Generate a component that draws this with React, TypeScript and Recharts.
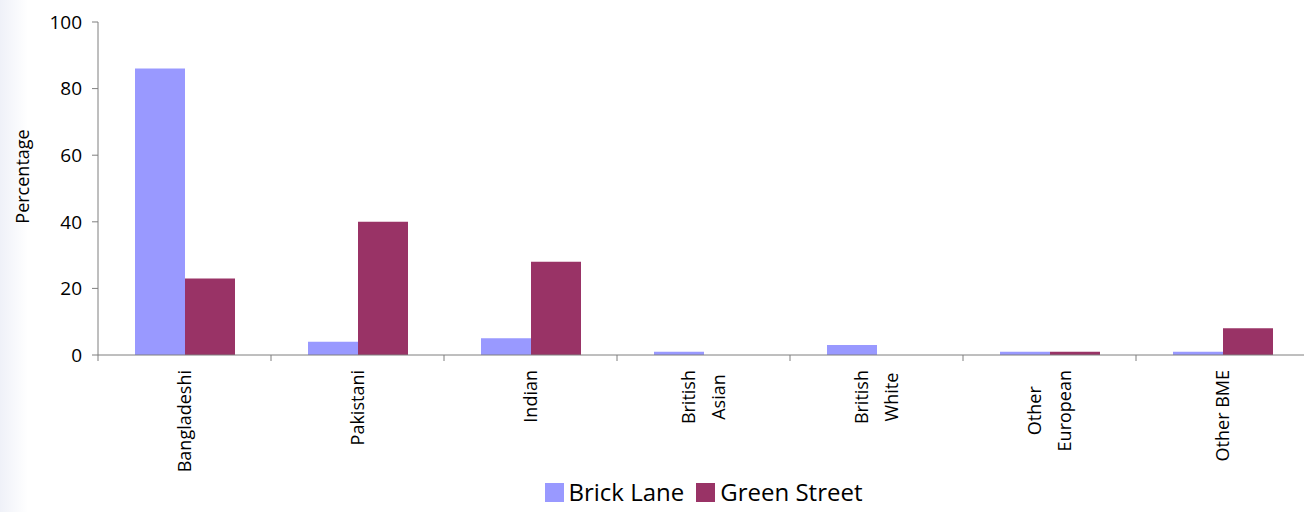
import { BarChart, Bar, XAxis, YAxis, Legend } from "recharts";

const categories = [
  "Bangladeshi",
  "Pakistani",
  "Indian",
  "British\nAsian",
  "British\nWhite",
  "Other\nEuropean",
  "Other BME",
];
const brickLane = [86, 4, 5, 1, 3, 1, 1];
const greenStreet = [23, 40, 28, 0, 0, 1, 8];
const yTicks = [0, 20, 40, 60, 80, 100];

const data = categories.map((name, i) => ({
  name,
  brick: brickLane[i],
  green: greenStreet[i],
}));

const FONT = "'Open Sans', Lato, sans-serif";
const CHART_W = 1312;
const CHART_H = 512;
const PLOT_LEFT = 98;
const MARGIN_RIGHT = 3;
const PLOT_W = CHART_W - PLOT_LEFT - MARGIN_RIGHT;
const BAND = PLOT_W / categories.length;
const AXIS = "#7f7f7f";

let ctx: CanvasRenderingContext2D | null = null;
const measure = (s: string, size: number) => {
  if (!ctx) ctx = document.createElement("canvas").getContext("2d");
  if (!ctx) return s.length * size * 0.5;
  ctx.font = `${size}px 'Open Sans'`;
  return ctx.measureText(s).width;
};

const XTick = (props: any) => {
  const { x, y, payload } = props;
  const lines = String(payload.value).split("\n");
  const size = 18;
  const len = Math.max(...lines.map((l) => measure(l, size)));
  const cy = y + 15 + len / 2;
  return (
    <g>
      <line x1={x - BAND / 2} x2={x - BAND / 2} y1={y} y2={y + 6} stroke={AXIS} />
      {lines.map((l, i) => {
        const lx = x + (i - (lines.length - 1) / 2) * 30;
        return (
          <text
            key={i}
            x={lx}
            y={cy}
            transform={`rotate(-90 ${lx} ${cy})`}
            textAnchor="middle"
            dominantBaseline="central"
            fontSize={size}
            fontFamily={FONT}
            fill="#000"
          >
            {l}
          </text>
        );
      })}
    </g>
  );
};

const LegendContent = () => (
  <div
    style={{
      display: "flex",
      justifyContent: "center",
      alignItems: "center",
      fontFamily: FONT,
      fontSize: 24,
      lineHeight: "26px",
      height: 26,
      color: "#000",
      gap: 5,
    }}
  >
    <span style={{ width: 19, height: 19, background: "#9999FF", display: "inline-block" }} />
    <span>Brick Lane</span>
    <span style={{ width: 19, height: 19, background: "#993366", display: "inline-block", marginLeft: 7 }} />
    <span>Green Street</span>
  </div>
);

export default function App() {
  return (
    <div
      style={{
        position: "absolute",
        left: 0,
        top: 0,
        width: 1304,
        height: 512,
        overflow: "hidden",
        background: "#fff",
      }}
    >
      <div
        style={{
          position: "absolute",
          left: 0,
          top: 0,
          width: 28,
          height: 512,
          background: "linear-gradient(to right, #eff1f8, #ffffff)",
        }}
      />
      <BarChart
        width={CHART_W}
        height={CHART_H}
        data={data}
        margin={{ top: 22, right: MARGIN_RIGHT, left: 0, bottom: 0 }}
        barGap={0}
        barSize={50}
      >
        <XAxis
          dataKey="name"
          interval={0}
          tickSize={0}
          tickMargin={0}
          tickLine={false}
          height={127}
          stroke={AXIS}
          tick={(p: any) => <XTick {...p} />}
        />
        <YAxis
          domain={[0, 100]}
          ticks={yTicks}
          width={PLOT_LEFT}
          stroke={AXIS}
          tickSize={6}
          tickMargin={10}
          tick={{ fill: "#000", fontSize: 19, fontFamily: FONT }}
          label={(p: any) => {
            const vb = p.viewBox || { y: 22, height: 333 };
            const cy = vb.y + vb.height / 2 - 12;
            return (
              <text
                x={22}
                y={cy}
                transform={`rotate(-90 22 ${cy})`}
                textAnchor="middle"
                dominantBaseline="central"
                fontSize={18}
                fontFamily={FONT}
                fill="#000"
              >
                Percentage
              </text>
            );
          }}
        />
        <Legend
          verticalAlign="bottom"
          height={30}
          wrapperStyle={{ left: PLOT_LEFT, width: PLOT_W, bottom: 3 }}
          content={<LegendContent />}
        />
        <Bar dataKey="brick" name="Brick Lane" fill="#9999FF" isAnimationActive={false} />
        <Bar dataKey="green" name="Green Street" fill="#993366" isAnimationActive={false} />
      </BarChart>
    </div>
  );
}
